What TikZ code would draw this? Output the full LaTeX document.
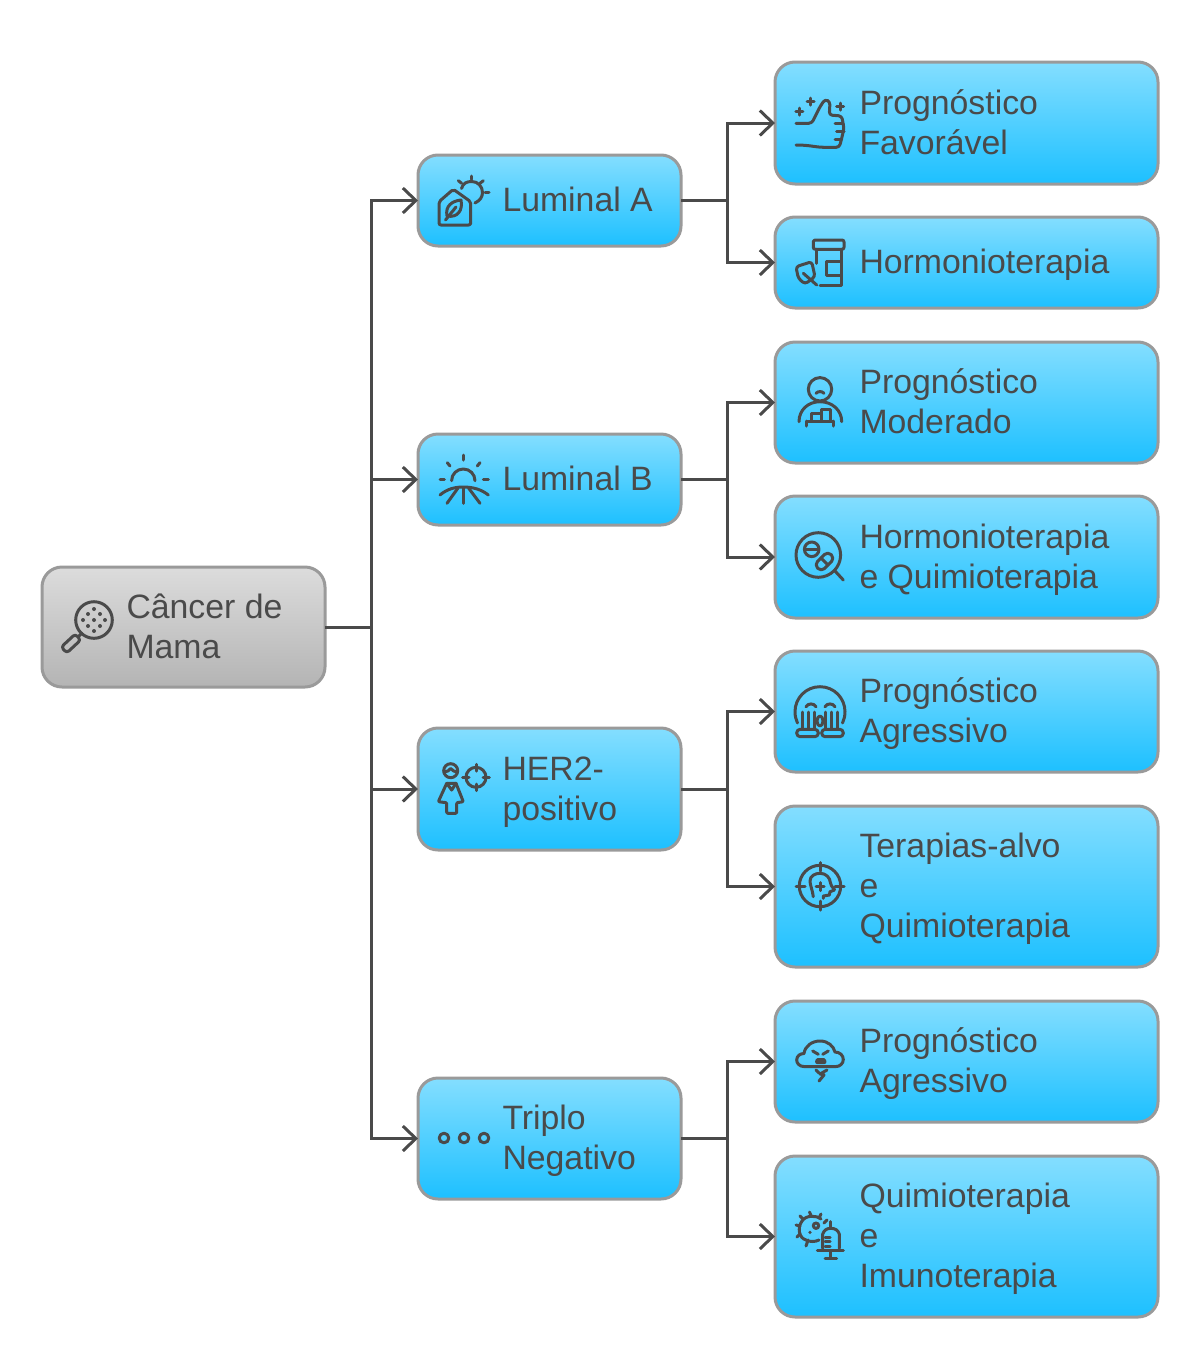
\documentclass[tikz,border=0pt]{standalone}
\usepackage{fontspec}
\setmainfont{Liberation Sans}
\usetikzlibrary{arrows.meta}
\definecolor{ink}{HTML}{4A4A4A}
\definecolor{edge}{HTML}{9A9A9A}
\definecolor{bluetop}{HTML}{84DEFF}
\definecolor{bluebot}{HTML}{1DC0FF}
\definecolor{greytop}{HTML}{DCDCDC}
\definecolor{greybot}{HTML}{B4B4B4}
\tikzset{
  basebox/.style={draw=edge,line width=3pt,rounded corners=20pt,inner sep=0pt,outer sep=0pt,text=ink},
  bluebox/.style={basebox,top color=bluetop,bottom color=bluebot},
  greybox/.style={basebox,top color=greytop,bottom color=greybot},
  conn/.style={draw=ink,line width=3pt,-{Straight Barb[length=13pt,width=25pt,line width=3pt]}},
  stem/.style={draw=ink,line width=3pt},
  icon/.style={draw=ink,line width=3pt,line cap=round,line join=round},
  dot/.style={fill=ink,draw=none}
}
\newcommand{\linestrut}{\rule[-7pt]{0pt}{36pt}}
\newcommand{\boxnode}[8]{%
  \pgfmathsetmacro{\bw}{#4-#2}\pgfmathsetmacro{\bh}{#5-#3}
  \pgfmathsetmacro{\bx}{(#4+#2)/2}\pgfmathsetmacro{\by}{(#5+#3)/2}
  \pgfmathsetmacro{\tw}{#4-#2-#7-1}
  \node[#6,minimum width=\bw pt,minimum height=\bh pt] (#1) at (\bx,\by)
    {\hspace*{#7pt}\parbox[c]{\tw pt}{\fontsize{33.8}{40}\selectfont\raggedright\linestrut #8\linestrut}};}
\begin{document}
\begin{tikzpicture}[x=1pt,y=-1pt]
\useasboundingbox[fill=white] (0,0) rectangle (1200,1363);
% boxes
\boxnode{root}{42}{567}{325}{687}{greybox}{84}{Câncer de\\Mama}
\boxnode{luma}{418}{155}{681}{246}{bluebox}{84}{Luminal A}
\boxnode{lumb}{418}{434}{681}{525}{bluebox}{84}{Luminal B}
\boxnode{her}{418}{728}{681}{850}{bluebox}{84}{HER2-\\positivo}
\boxnode{tri}{418}{1078}{681}{1199}{bluebox}{84}{Triplo\\Negativo}
\boxnode{a1}{775}{62}{1158}{184}{bluebox}{84}{Prognóstico\\Favorável}
\boxnode{a2}{775}{217}{1158}{308}{bluebox}{84}{Hormonioterapia}
\boxnode{b1}{775}{342}{1158}{463}{bluebox}{84}{Prognóstico\\Moderado}
\boxnode{b2}{775}{496}{1158}{618}{bluebox}{84}{Hormonioterapia\\e Quimioterapia}
\boxnode{c1}{775}{651}{1158}{772}{bluebox}{84}{Prognóstico\\Agressivo}
\boxnode{c2}{775}{806}{1158}{967}{bluebox}{84}{Terapias-alvo\\e\\Quimioterapia}
\boxnode{d1}{775}{1001}{1158}{1122}{bluebox}{84}{Prognóstico\\Agressivo}
\boxnode{d2}{775}{1156}{1158}{1317}{bluebox}{84}{Quimioterapia\\e\\Imunoterapia}
% connectors
\coordinate (trunk) at (371,627);
\coordinate (ja) at (727,200.5);
\coordinate (jb) at (727,479.5);
\coordinate (jc) at (727,789);
\coordinate (jd) at (727,1138.5);
\foreach \t in {luma,lumb,her,tri} \draw[conn] (root.east) -- (trunk) |- (\t.west);
\draw[stem] (luma.east) -- (ja);
\foreach \t in {a1,a2} \draw[conn] (ja) |- (\t.west);
\draw[stem] (lumb.east) -- (jb);
\foreach \t in {b1,b2} \draw[conn] (jb) |- (\t.west);
\draw[stem] (her.east) -- (jc);
\foreach \t in {c1,c2} \draw[conn] (jc) |- (\t.west);
\draw[stem] (tri.east) -- (jd);
\foreach \t in {d1,d2} \draw[conn] (jd) |- (\t.west);
% icon: magnifier (root)
\begin{scope}[icon]
\draw (94,620) circle (18.3);
\draw (81.7,633.3) -- (78,637);
\draw[rounded corners=3pt] (80.7,640) -- (66.7,653) -- (61.3,647) -- (75.3,634) -- cycle;
\foreach \dx/\dy in {0/-11,-6/-6,6/-6,-11/0,0/0,11/0,-6/6,6/6,0/11}
  \fill[dot] (94+\dx,620+\dy) circle (2);
\end{scope}
% icon: house and sun (Luminal A)
\begin{scope}[icon]
\draw[rounded corners=2pt] (439,201.7) -- (453.3,189.3) -- (470.7,201.7) -- (470.7,225) -- (439,225) -- cycle;
\draw (447,216) .. controls (445,206) and (452,201) .. (461,200) .. controls (463,210) and (458,218) .. (447,216);
\draw (445.5,220) -- (456,207);
\draw (461.5,188.5) .. controls (463,183) and (467,181.5) .. (471.7,181.5) .. controls (478,181.5) and (482.5,186.5) .. (482.5,192.5) .. controls (482.5,197) and (480,200.5) .. (475,203);
\draw (458.3,180.7) -- (461.7,183.3);
\draw (471,176) -- (471,179.3);
\draw (483.3,180.7) -- (480,183.3);
\draw (485,192.7) -- (489,192.7);
\end{scope}
% icon: sunrise (Luminal B)
\begin{scope}[icon]
\draw (451.6,480.7) .. controls (451.6,474) and (457,469) .. (463.3,469) .. controls (469.6,469) and (475,474) .. (475,480.7);
\draw (463.3,455) -- (463.3,460);
\draw (447.3,462.7) -- (450,466);
\draw (480,462.7) -- (477.3,466);
\draw (440,479.3) -- (444.3,479.3);
\draw (483.3,479.3) -- (488.3,479.3);
\draw (440,495) .. controls (447,489) and (455,487) .. (463.3,487) .. controls (472,487) and (481,489) .. (488.3,495);
\draw (458,488) -- (447,503.3);
\draw (463.3,488) -- (463.3,503.3);
\draw (468.5,488) -- (480,503.3);
\end{scope}
% icon: woman and target (HER2)
\begin{scope}[icon]
\draw (450.7,770.7) circle (7);
\draw (444,772) .. controls (447,772) and (449,770.5) .. (450.7,768.5) .. controls (452.5,770.5) and (454.5,772) .. (457.5,772);
\draw[rounded corners=1pt] (446.7,783.3) -- (438.3,801.7) -- (446.7,802.7) -- (446.7,813.3) -- (456.7,813.3) -- (456.7,802.7) -- (463.3,801.7) -- (456,783.3);
\draw (446.7,783.3) -- (451.7,790) -- (456,783.3) -- (446.7,783.3);
\draw (476,777.3) circle (10);
\draw (476,764.3) -- (476,771);
\draw (476,784) -- (476,790.5);
\draw (462.5,777.3) -- (469,777.3);
\draw (483,777.3) -- (489.3,777.3);
\end{scope}
% icon: three circles (Triplo)
\begin{scope}[icon]
\draw (444,1138) circle (4.8);
\draw (464,1138) circle (4.8);
\draw (484,1138) circle (4.8);
\end{scope}
% icon: thumbs up
\begin{scope}[icon]
\draw[rounded corners=3pt] (796,123.3) -- (811.7,123.3) -- (820,106.7) -- (825,99.3) -- (830,101.7) -- (829.3,115) -- (841.7,116) -- (844,128.3) -- (841.7,138.3) -- (839.3,147.3) -- (823.3,147.3);
\draw (823.3,147.3) .. controls (816,147.3) and (810,145) .. (796,145);
\draw (835,123.3) -- (843,123.3);
\draw (836.5,131.7) -- (844,131.7);
\draw (835,139.3) -- (841.7,139.3);
\foreach \sx/\sy in {799.3/111.7,810.7/101.7,840/106.7}{
  \draw (\sx-3.5,\sy) -- (\sx+3.5,\sy);
  \draw (\sx,\sy-3.5) -- (\sx,\sy+3.5);}
\end{scope}
% icon: bottle and leaf
\begin{scope}[icon]
\draw[rounded corners=2pt] (813.3,240) rectangle (844,249.3);
\draw (816.7,249.3) -- (816.7,263.3);
\draw (841.7,249.3) -- (841.7,285) -- (820,285);
\draw (840.7,261.7) -- (826.7,261.7) -- (826.7,275) -- (840.7,275);
\draw[rounded corners=3pt] (796,266.7) -- (811.7,261.7) -- (815,276.7) -- (805,284) -- (798.3,278.3) -- cycle;
\draw (803.3,273.3) -- (816.7,285);
\end{scope}
% icon: person with bars
\begin{scope}[icon]
\draw (820,389.3) circle (11.7);
\draw (816,393.3) .. controls (818,391) and (822,391) .. (824,393.3);
\draw (799,421.7) .. controls (799,410) and (808,401.7) .. (820,401.7) .. controls (832,401.7) and (841.7,410) .. (841.7,421.7);
\draw (806.7,421) -- (833.3,421);
\draw (806.7,421) -- (806.7,426);
\draw (833.3,421) -- (833.3,426);
\draw (811.7,421) -- (811.7,413.3) -- (821.7,413.3) -- (821.7,421);
\draw (821.7,413.3) -- (821.7,409.3) -- (830,409.3) -- (830,421);
\end{scope}
% icon: pills in lens
\begin{scope}[icon]
\draw (818.3,555) circle (22.3);
\draw (835,571) -- (843.3,580);
\draw (811.7,549.3) circle (7.3);
\draw (806,549.3) -- (817.3,549.3);
\draw[rounded corners=4.5pt] (834.7,558.3) -- (827.7,551.3) -- (814.3,564.7) -- (821.3,571.7) -- cycle;
\draw (821,558) -- (828,565);
\end{scope}
% icon: crying face
\begin{scope}[icon]
\draw (797.5,723) .. controls (795.8,719.5) and (795,715.7) .. (795,711.7) .. controls (795,698) and (806,686.7) .. (820,686.7) .. controls (834,686.7) and (845,698) .. (845,711.7) .. controls (845,715.7) and (844.2,719.5) .. (842.5,723);
\draw (806,706.7) .. controls (808,703) and (814,703) .. (816,706.7);
\draw (825,706.7) .. controls (827,703) and (833,703) .. (835,706.7);
\foreach \lx in {802.5,808.5,814.5,825.5,831.5,837.5} \draw (\lx,712) -- (\lx,728);
\draw (820,721) ellipse (3 and 5);
\draw[rounded corners=3.5pt] (796.7,729.3) rectangle (818.3,736.7);
\draw[rounded corners=3.5pt] (821.7,729.3) rectangle (843.3,736.7);
\end{scope}
% icon: head in target
\begin{scope}[icon]
\draw (820,886) circle (20.7);
\draw (820,862.7) -- (820,871);
\draw (820,901) -- (820,910);
\draw (796,886) -- (805,886);
\draw (835,886) -- (844,886);
\draw (813.3,896.7) .. controls (812.5,890) and (810,885) .. (810,881) .. controls (810,876) and (815,873.3) .. (820,873.3) .. controls (826,873.3) and (830,877.5) .. (830.5,883) .. controls (831,887) and (835,889) .. (834.5,890) -- (830,891.7) -- (829.3,895) -- (823.3,896) -- (823.3,898.3);
\draw (816,886.7) -- (824,886.7);
\draw (820,882.7) -- (820,890.7);
\end{scope}
% icon: storm cloud
\begin{scope}[icon]
\draw (805,1066.7) .. controls (799,1066.7) and (796.7,1063) .. (796.7,1060) .. controls (796.7,1056) and (800,1053.5) .. (804,1053.5) .. controls (805,1046) and (812,1041) .. (820,1041) .. controls (828,1041) and (833.5,1046) .. (835,1052) .. controls (840,1052) and (843.3,1055.5) .. (843.3,1059.5) .. controls (843.3,1063.5) and (840,1066.7) .. (835,1066.7) -- cycle;
\draw (812.7,1051) -- (818.3,1054.3);
\draw (828.3,1051) -- (822.7,1054.3);
\fill[dot,rounded corners=2pt] (815,1064) -- (815.5,1058) -- (826,1058) -- (826.5,1064) -- cycle;
\draw (816,1070) -- (819,1073);
\draw (827,1070) -- (820,1074) -- (824,1075) -- (819,1081);
\end{scope}
% icon: virus and syringe
\begin{scope}[icon]
\draw (821,1219) .. controls (816,1215) and (806,1215) .. (802,1221) .. controls (797,1228) and (799,1238) .. (806,1240) .. controls (810,1242) and (815,1242) .. (819,1240);
\foreach \sx/\sy/\ex/\ey in {811/1215.5/809.5/1212,803/1219/800/1216,800/1226/796/1225,800/1234/797/1237,808/1240/806/1246,819/1218/821/1214,824/1223/827/1220}
  \draw (\sx,\sy) -- (\ex,\ey);
\draw (816,1225.7) circle (2.7);
\fill[dot] (810,1232.3) circle (1.8);
\draw (822.7,1248.3) -- (822.7,1234) .. controls (824,1230) and (827,1228.3) .. (830.7,1228.3) .. controls (835,1228.3) and (838,1230) .. (839.3,1234) -- (839.3,1248.3);
\draw (830.7,1221.7) -- (830.7,1228.3);
\draw (817.3,1250.7) -- (843.3,1250.7);
\draw (830.7,1251) -- (830.7,1258.3);
\draw (825,1258.3) -- (836.7,1258.3);
\draw (825,1237) -- (830,1237);
\draw (825,1241.7) -- (830,1241.7);
\draw (825,1246) -- (830,1246);
\end{scope}
\end{tikzpicture}
\end{document}
